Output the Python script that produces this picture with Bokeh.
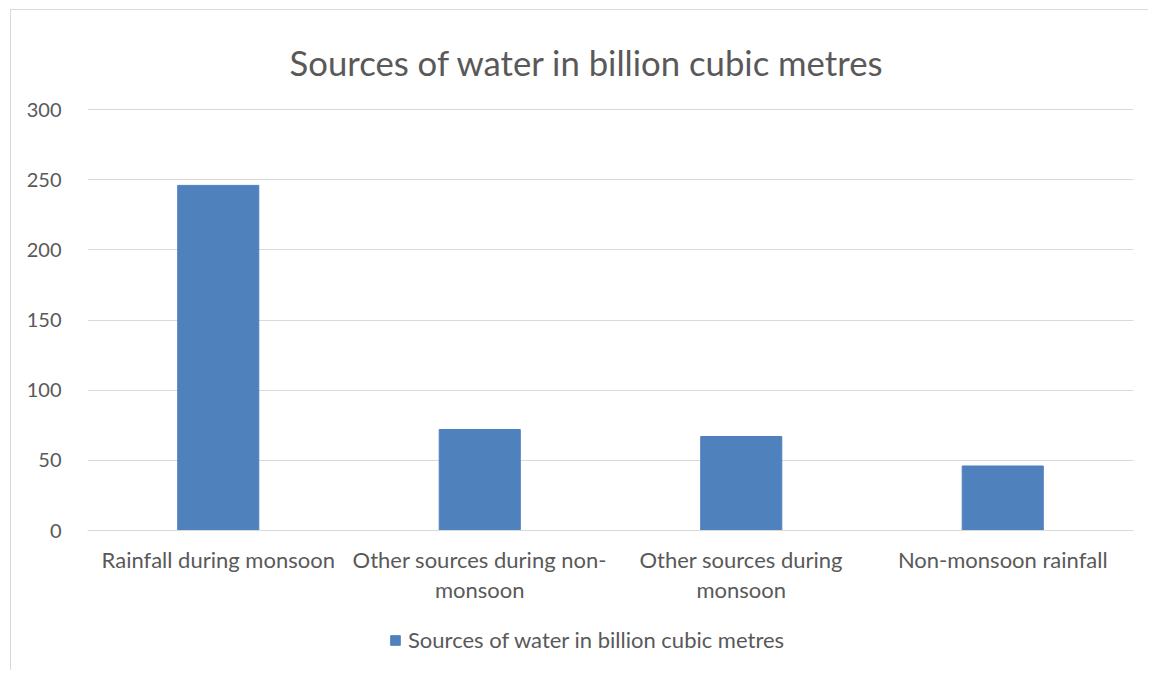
from bokeh.plotting import figure
from bokeh.models import Range1d, FixedTicker, Legend, LegendItem
from bokeh.embed import file_html
from bokeh.resources import INLINE

# Data
categories = ["Rainfall during monsoon", "Other sources during non-monsoon",
              "Other sources during monsoon", "Non-monsoon rainfall"]
tick_labels = ["Rainfall during monsoon", "Other sources during non-\nmonsoon",
               "Other sources during\nmonsoon", "Non-monsoon rainfall"]
values = [246, 72, 67, 46]
y_ticks = [0, 50, 100, 150, 200, 250, 300]
series_name = "Sources of water in billion cubic metres"

TEXT = "#595959"
GRID = "#d9d9d9"
BAR = "#4F81BD"
FONT = "Lato"

positions = list(range(len(categories)))

# The frame reaches below zero so the category labels and the legend sit inside it
p = figure(frame_width=1046, frame_height=557, output_backend="svg", toolbar_location=None,
           x_range=Range1d(-0.5, len(categories) - 0.5), y_range=Range1d(-96.2, 300.8),
           min_border_left=76, min_border_right=15, min_border_top=98,
           min_border_bottom=5)
p.styles = {"margin-left": "10px", "margin-top": "9px",
            "border-left": f"1px solid {GRID}", "border-top": f"1px solid {GRID}"}
p.outline_line_color = None
p.background_fill_color = "white"
p.border_fill_color = "white"

bars = p.vbar(x=positions, top=values, width=0.31, bottom=0,
              fill_color=BAR, line_color=BAR)

# Title
p.title.text = "Sources of water in billion cubic metres"
p.title.align = "left"
p.title.offset = 202
p.title.standoff = 52
p.title.text_font = FONT
p.title.text_font_size = "34.7px"
p.title.text_font_style = "normal"
p.title.text_color = TEXT

# y axis
p.yaxis.ticker = FixedTicker(ticks=y_ticks)
p.yaxis.axis_line_color = None
p.yaxis.major_tick_line_color = None
p.yaxis.minor_tick_line_color = None
p.yaxis.major_label_standoff = 20
p.yaxis.major_label_text_font = FONT
p.yaxis.major_label_text_font_size = "20px"
p.yaxis.major_label_text_color = TEXT

# x axis pinned at zero, with category labels
p.xaxis.fixed_location = 0
p.xaxis.ticker = FixedTicker(ticks=positions)
p.xaxis.major_label_overrides = {i: lab for i, lab in zip(positions, tick_labels)}
p.xaxis.axis_line_color = GRID
p.xaxis.major_tick_line_color = None
p.xaxis.minor_tick_line_color = None
p.xaxis.major_label_standoff = 9
p.xaxis.major_label_text_font = FONT
p.xaxis.major_label_text_font_size = "22px"
p.xaxis.major_label_text_line_height = 1.12
p.xaxis.major_label_text_color = TEXT

p.xgrid.grid_line_color = None
p.ygrid.grid_line_color = GRID
p.ygrid.ticker = FixedTicker(ticks=y_ticks)

legend = Legend(items=[LegendItem(label=series_name, renderers=[bars])],
                orientation="horizontal", location=(302, 12),
                border_line_color=None, background_fill_alpha=0,
                glyph_width=12, glyph_height=12, label_standoff=7,
                label_text_font=FONT, label_text_font_size="22px",
                label_text_color=TEXT, margin=0, padding=0)
p.add_layout(legend)

open("out.html", "w").write(file_html(p, INLINE))
